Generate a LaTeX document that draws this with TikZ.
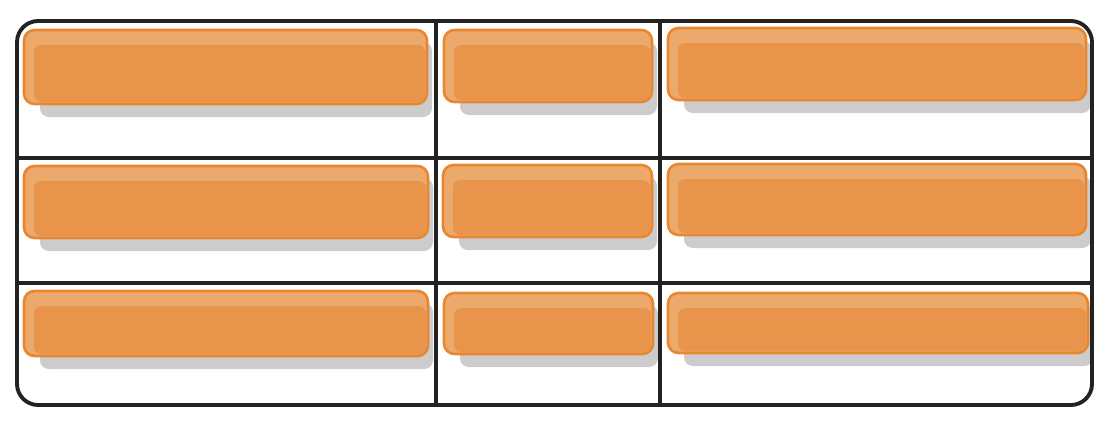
\documentclass[tikz,border=0pt]{standalone}
\definecolor{barfill}{HTML}{E8954B}
\definecolor{barline}{HTML}{E8872F}
\definecolor{barlight}{HTML}{ECA96C}
\definecolor{barshade}{HTML}{CCCCCC}
\definecolor{gridline}{HTML}{222222}

\begin{document}
\begin{tikzpicture}[x=0.02cm,y=-0.02cm,
    shadebox/.style={fill=barshade,rounded corners=5pt},
    bar/.style={fill=barlight,draw=barline,line width=1.5pt,rounded corners=6pt},
    barcore/.style={fill=barfill,rounded corners=4pt},
    gridrule/.style={draw=gridline,line width=2.2pt}]
  \useasboundingbox (0,0) rectangle (1118,426);

  % bars: left/top/right/bottom/name
  \foreach \l/\t/\r/\b/\n in {24/30/427/104/a, 444/30/652/102/b, 668/28/1086/100/c,
      24/166/428/238/d, 443/165/652/237/e, 668/164/1086/235/f,
      24/291/428/356/g, 444/293/653/354/h, 668/293/1088/353/i} {
    \coordinate (\n nw) at (\l,\t);
    \coordinate (\n se) at (\r,\b);
    \fill[shadebox] (\l+16,\t+12) rectangle (\r+5,\b+13);
    \path[bar] (\n nw) rectangle (\n se);
    \fill[barcore] (\l+10,\t+15) rectangle (\r-2,\b-2);
  }

  % table
  \coordinate (tnw) at (17,21);
  \coordinate (tse) at (1092,405);
  \draw[gridrule,rounded corners=12pt] (tnw) rectangle (tse);
  \draw[gridrule] (tnw |- 0,158) -- (tse |- 0,158);
  \draw[gridrule] (tnw |- 0,283) -- (tse |- 0,283);
  \draw[gridrule] (tnw -| 436,0) -- (tse -| 436,0);
  \draw[gridrule] (tnw -| 660,0) -- (tse -| 660,0);
\end{tikzpicture}
\end{document}
